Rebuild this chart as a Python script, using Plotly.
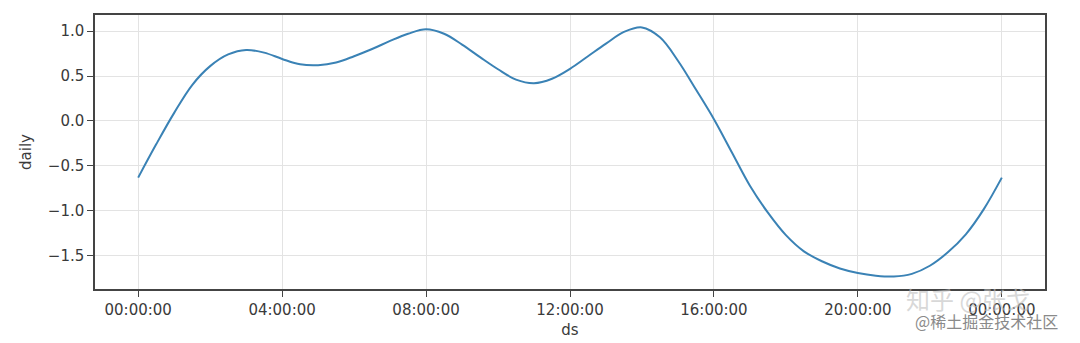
import plotly.graph_objects as go
import pandas as pd

# Half-hourly daily seasonality values
ds = pd.date_range("2017-01-01 00:00:00", "2017-01-02 00:00:00", freq="30min")
daily = [
    -0.63, -0.26, 0.09, 0.40, 0.61, 0.74, 0.79, 0.76, 0.69, 0.63,
    0.62, 0.65, 0.72, 0.80, 0.89, 0.97, 1.02, 0.97, 0.85, 0.71,
    0.575, 0.46, 0.42, 0.47, 0.58, 0.72, 0.86, 0.99, 1.04, 0.93,
    0.67, 0.35, 0.02, -0.35, -0.72, -1.02, -1.27, -1.45, -1.56, -1.64,
    -1.69, -1.72, -1.73, -1.70, -1.61, -1.46, -1.26, -0.98, -0.63,
]
y_ticks = [1.0, 0.5, 0.0, -0.5, -1.0, -1.5]

fig = go.Figure()
fig.add_trace(go.Scatter(
    x=ds, y=daily, mode="lines",
    line=dict(color="#3a82b5", width=2, shape="spline", smoothing=1.0),
    showlegend=False,
))

span = ds[-1] - ds[0]
pad = span * 0.05
ymin, ymax = min(daily), max(daily)
ypad = (ymax - ymin) * 0.05

font = dict(family="DejaVu Sans", size=15, color="#3a3a3a")

fig.update_layout(
    width=1080, height=343,
    margin=dict(l=95, r=35, t=15, b=54),
    paper_bgcolor="white", plot_bgcolor="white",
    font=font,
    xaxis=dict(
        range=[ds[0] - pad, ds[-1] + pad],
        tickformat="%H:%M:%S", dtick=4 * 3600 * 1000,
        tick0="2017-01-01 00:00:00",
        showgrid=True, gridcolor="#e3e3e3", gridwidth=1,
        showline=True, linecolor="#444444", linewidth=1.5, mirror=True,
        ticks="outside", ticklen=6, tickcolor="#444444",
        zeroline=False, automargin=False,
        title=dict(text="ds", font=font, standoff=7),
    ),
    yaxis=dict(
        range=[ymin - ypad, ymax + ypad],
        tickvals=y_ticks, tickformat=".1f",
        showgrid=True, gridcolor="#e3e3e3", gridwidth=1,
        showline=True, linecolor="#444444", linewidth=1.5, mirror=True,
        ticks="outside", ticklen=6, tickcolor="#444444",
        zeroline=False, automargin=False,
        title=dict(text="daily", font=font, standoff=13),
    ),
)

# watermarks (pixel positions converted to paper coordinates below)
fig.add_annotation(
    x=968, y=298, text="知乎 @张戈", showarrow=False,
    font=dict(family="Noto Sans CJK SC", size=24, color="rgba(190,190,190,0.6)"),
)
fig.add_annotation(
    x=986, y=321, text="@稀土掘金技术社区", showarrow=False,
    font=dict(family="Noto Sans CJK SC", size=16, color="#8a8a8a"),
)
for ann in fig.layout.annotations:
    px, py = ann.x, ann.y
    ann.update(xref="paper", yref="paper", xanchor="center", yanchor="middle",
               x=(px - 95) / (1080 - 95 - 35), y=(343 - 54 - py) / (343 - 15 - 54))

fig.write_html("out.html")
